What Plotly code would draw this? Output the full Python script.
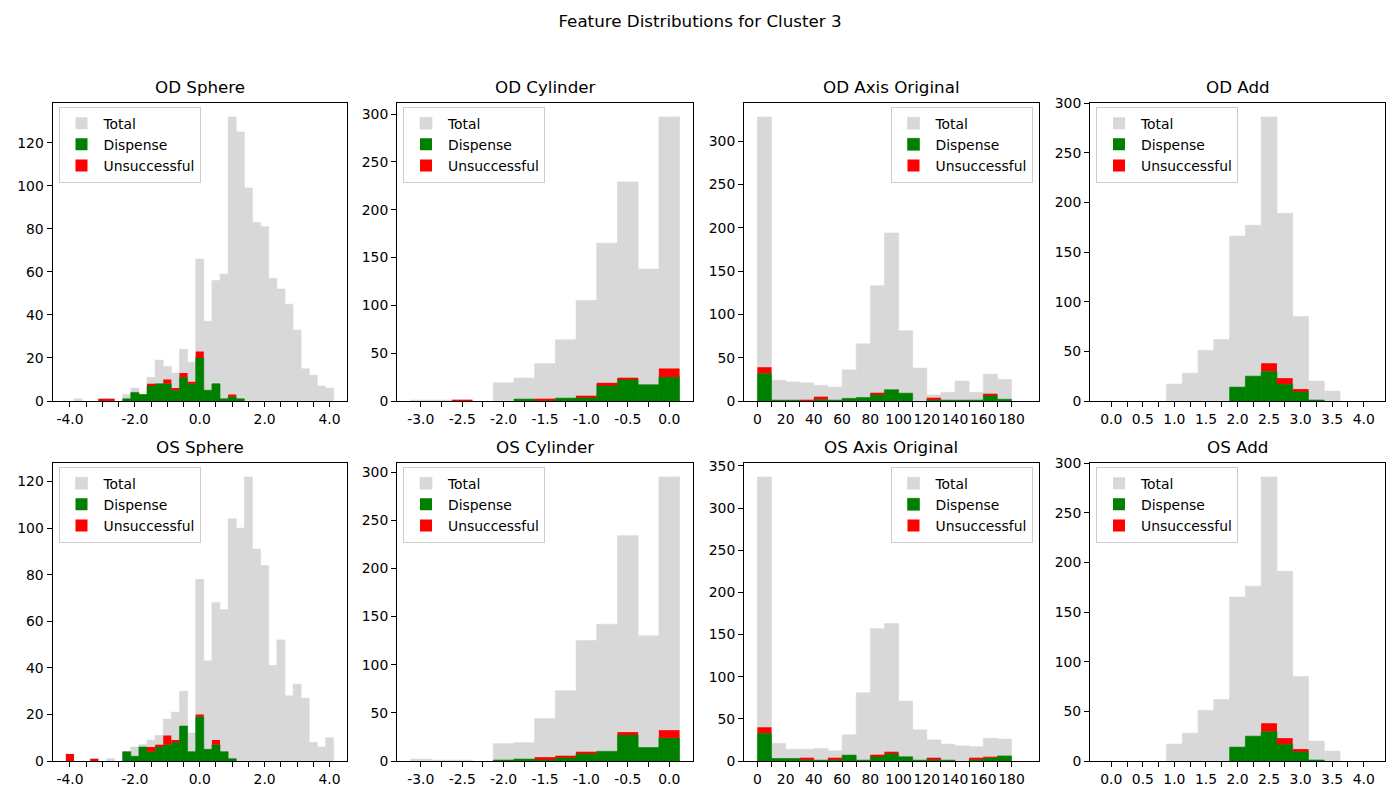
import plotly.graph_objects as go

# bin centres (x values of the histograms)
sphere_bins = [-4.0, -3.75, -3.5, -3.25, -3.0, -2.75, -2.5, -2.25, -2.0, -1.75, -1.5,
               -1.25, -1.0, -0.75, -0.5, -0.25, 0.0, 0.25, 0.5, 0.75, 1.0, 1.25,
               1.5, 1.75, 2.0, 2.25, 2.5, 2.75, 3.0, 3.25, 3.5, 3.75, 4.0]
cylinder_bins = [-3.0, -2.75, -2.5, -2.25, -2.0, -1.75, -1.5, -1.25, -1.0, -0.75, -0.5, -0.25, 0.0]
axis_bins = [5, 15, 25, 35, 45, 55, 65, 75, 85, 95, 105, 115, 125, 135, 145, 155, 165, 175]
add_bins = [0.0, 0.25, 0.5, 0.75, 1.0, 1.25, 1.5, 1.75, 2.0, 2.25, 2.5, 2.75, 3.0, 3.25, 3.5, 3.75, 4.0]

# counts
od_sphere_total = [0, 1, 0, 0, 1, 1, 0, 3, 6, 3, 11, 19, 16, 13, 24, 18, 66, 37, 56, 59, 132, 125,
                   99, 83, 81, 57, 52, 45, 33, 15, 12, 7, 6]
od_sphere_dispense = [0, 0, 0, 0, 0, 0, 0, 1, 4, 3, 7, 8, 8, 5, 11, 8, 20, 5, 8, 1, 2, 1,
                      0, 0, 0, 0, 0, 0, 0, 0, 0, 0, 0]
od_sphere_unsuccessful = [0, 0, 0, 0, 1, 1, 0, 0, 0, 0, 1, 0, 2, 1, 2, 1, 3, 0, 0, 0, 1, 0,
                          0, 0, 0, 0, 0, 0, 0, 0, 0, 0, 0]

os_sphere_total = [3, 0, 0, 1, 0, 1, 0, 4, 6, 7, 9, 11, 18, 21, 30, 12, 78, 43, 68, 65, 104, 100,
                   122, 91, 84, 41, 52, 28, 33, 27, 8, 6, 10]
os_sphere_dispense = [0, 0, 0, 0, 0, 0, 0, 4, 2, 6, 4, 6, 7, 8, 15, 4, 19, 5, 7, 4, 1, 0,
                      0, 0, 0, 0, 0, 0, 0, 0, 0, 0, 0]
os_sphere_unsuccessful = [3, 0, 0, 1, 0, 0, 0, 0, 0, 0, 2, 1, 4, 1, 0, 0, 1, 0, 2, 0, 0, 0,
                          0, 0, 0, 0, 0, 0, 0, 0, 0, 0, 0]

od_cylinder_total = [1, 1, 1, 0, 19, 24, 39, 64, 105, 165, 229, 138, 297]
od_cylinder_dispense = [0, 0, 0, 0, 0, 2, 1, 3, 4, 17, 23, 17, 25]
od_cylinder_unsuccessful = [0, 0, 1, 0, 0, 0, 1, 0, 1, 2, 1, 0, 9]

os_cylinder_total = [2, 1, 1, 0, 18, 19, 44, 73, 125, 142, 234, 130, 295]
os_cylinder_dispense = [0, 0, 0, 0, 1, 2, 2, 4, 8, 10, 27, 14, 24]
os_cylinder_unsuccessful = [0, 0, 0, 0, 0, 0, 2, 1, 1, 0, 3, 0, 8]

od_axis_total = [328, 24, 22, 21, 18, 16, 36, 66, 133, 194, 81, 38, 7, 10, 23, 10, 31, 25]
od_axis_dispense = [32, 1, 1, 0, 2, 1, 3, 4, 8, 13, 9, 0, 2, 1, 1, 1, 7, 2]
od_axis_unsuccessful = [7, 0, 0, 1, 3, 0, 0, 0, 1, 0, 0, 0, 1, 0, 0, 0, 1, 0]

os_axis_total = [337, 21, 14, 14, 15, 12, 31, 81, 157, 163, 71, 37, 25, 20, 18, 17, 27, 26]
os_axis_dispense = [33, 3, 3, 2, 1, 2, 7, 1, 6, 9, 5, 1, 2, 1, 0, 2, 4, 6]
os_axis_unsuccessful = [7, 0, 0, 1, 0, 1, 0, 0, 1, 1, 0, 0, 1, 0, 0, 1, 1, 0]

od_add_total = [0, 0, 0, 0, 17, 28, 51, 62, 166, 177, 286, 189, 85, 20, 10, 0, 0]
od_add_dispense = [0, 0, 0, 0, 0, 0, 0, 0, 14, 25, 30, 17, 10, 1, 0, 0, 0]
od_add_unsuccessful = [0, 0, 0, 0, 0, 0, 0, 0, 0, 0, 8, 6, 2, 0, 0, 0, 0]

os_add_total = [0, 0, 0, 0, 17, 28, 51, 62, 165, 176, 286, 191, 85, 20, 10, 0, 0]
os_add_dispense = [0, 0, 0, 0, 0, 0, 0, 0, 14, 25, 30, 17, 10, 1, 0, 0, 0]
os_add_unsuccessful = [0, 0, 0, 0, 0, 0, 0, 0, 0, 0, 8, 6, 2, 0, 0, 0, 0]

# tick labels
sphere_ticks = [-4.0, -3.5, -3.0, -2.5, -2.0, -1.5, -1.0, -0.5, 0.0, 0.5, 1.0, 1.5, 2.0, 2.5, 3.0, 3.5, 4.0]
sphere_labels = ["-4.0", "", "", "", "-2.0", "", "", "", "0.0", "", "", "", "2.0", "", "", "", "4.0"]
cylinder_ticks = cylinder_bins
cylinder_labels = ["-3.0", "", "-2.5", "", "-2.0", "", "-1.5", "", "-1.0", "", "-0.5", "", "0.0"]
axis_ticks = [0, 10, 20, 30, 40, 50, 60, 70, 80, 90, 100, 110, 120, 130, 140, 150, 160, 170, 180]
axis_labels = ["0", "", "20", "", "40", "", "60", "", "80", "", "100", "", "120", "", "140", "", "160", "", "180"]
add_ticks = add_bins
add_labels = ["0.0", "", "0.5", "", "1.0", "", "1.5", "", "2.0", "", "2.5", "", "3.0", "", "3.5", "", "4.0"]

titles = ["OD Sphere", "OD Cylinder", "OD Axis Original", "OD Add",
          "OS Sphere", "OS Cylinder", "OS Axis Original", "OS Add"]

panels = [
    (sphere_bins, od_sphere_total, od_sphere_dispense, od_sphere_unsuccessful),
    (cylinder_bins, od_cylinder_total, od_cylinder_dispense, od_cylinder_unsuccessful),
    (axis_bins, od_axis_total, od_axis_dispense, od_axis_unsuccessful),
    (add_bins, od_add_total, od_add_dispense, od_add_unsuccessful),
    (sphere_bins, os_sphere_total, os_sphere_dispense, os_sphere_unsuccessful),
    (cylinder_bins, os_cylinder_total, os_cylinder_dispense, os_cylinder_unsuccessful),
    (axis_bins, os_axis_total, os_axis_dispense, os_axis_unsuccessful),
    (add_bins, os_add_total, os_add_dispense, os_add_unsuccessful),
]

# per column styling: bar width, x range, ticks, y dtick, legend corner
col_style = [
    dict(width=0.25, xrange=[-4.5375, 4.5375], ticks=sphere_ticks, labels=sphere_labels, dtick=20, corner="left"),
    dict(width=0.25, xrange=[-3.2875, 0.2875], ticks=cylinder_ticks, labels=cylinder_labels, dtick=50, corner="left"),
    dict(width=10, xrange=[-9.5, 199.5], ticks=axis_ticks, labels=axis_labels, dtick=50, corner="right"),
    dict(width=0.25, xrange=[-0.3375, 4.3375], ticks=add_ticks, labels=add_labels, dtick=50, corner="left"),
]

W, H = 1400, 800
PAGE_MARGIN = 8  # the html body adds 8px around the plot div
cols_px = [(52.5, 347), (397, 693), (744, 1039), (1090, 1385)]
rows_px = [(102.7, 401), (462.7, 761)]


def px_x(p):
    return (p - PAGE_MARGIN) / W


def px_y(p):
    return 1 - (p - PAGE_MARGIN) / H


def seam_width(vals):
    # thin outline in the fill colour hides the hairline gaps between adjacent bars
    return [0.6 if v > 0 else 0 for v in vals]


fig = go.Figure()
annotations = []
layout_extra = {}

for i, (bins, total, dispense, unsuccessful) in enumerate(panels):
    row, col = divmod(i, 4)
    st = col_style[col]
    n = "" if i == 0 else str(i + 1)
    leg = "legend" + n
    xa, ya = "x" + n, "y" + n

    fig.add_trace(go.Bar(x=bins, y=total, width=st["width"], name="Total",
                         marker=dict(color="rgb(216,216,216)",
                                     line=dict(color="rgb(216,216,216)", width=seam_width(total))),
                         xaxis=xa, yaxis=ya, legend=leg))
    fig.add_trace(go.Bar(x=bins, y=dispense, width=st["width"], name="Dispense",
                         marker=dict(color="green", line=dict(color="green", width=seam_width(dispense))),
                         xaxis=xa, yaxis=ya, legend=leg))
    fig.add_trace(go.Bar(x=bins, y=unsuccessful, base=dispense, width=st["width"], name="Unsuccessful",
                         marker=dict(color="red", line_width=0),
                         xaxis=xa, yaxis=ya, legend=leg))

    x0, x1 = cols_px[col]
    y0, y1 = rows_px[row]
    axis_common = dict(showline=True, mirror=True, linecolor="black", linewidth=1,
                       ticks="outside", ticklen=5, tickwidth=1, tickcolor="black",
                       showgrid=False, zeroline=False, automargin=False, tickangle=0,
                       tickfont=dict(size=13.9, color="black"))
    layout_extra["xaxis" + n] = dict(domain=[px_x(x0), px_x(x1)], anchor=ya, range=st["xrange"],
                                     tickmode="array", tickvals=st["ticks"], ticktext=st["labels"],
                                     **axis_common)
    ymax = max(total) * 1.05
    layout_extra["yaxis" + n] = dict(domain=[px_y(y1), px_y(y0)], anchor=xa, range=[0, ymax],
                                     dtick=st["dtick"], **axis_common)

    if st["corner"] == "left":
        lx, xanchor = px_x(x0 + 6), "left"
    else:
        lx, xanchor = px_x(x1 - 6.5), "right"
    layout_extra[leg] = dict(x=lx, y=px_y(y0 + 4), xanchor=xanchor, yanchor="top",
                             bgcolor="rgba(255,255,255,0.8)", bordercolor="#cccccc", borderwidth=1,
                             font=dict(size=13.9, color="black"), itemclick=False, itemwidth=34)

    annotations.append(dict(text=titles[i], x=(px_x(x0) + px_x(x1)) / 2, y=px_y(y0),
                            xref="paper", yref="paper", xanchor="center", yanchor="bottom",
                            yshift=4, showarrow=False, font=dict(size=16.7, color="black")))

fig.update_layout(
    width=W, height=H,
    margin=dict(l=0, r=0, t=0, b=0),
    barmode="overlay",
    plot_bgcolor="white", paper_bgcolor="white",
    font=dict(family="DejaVu Sans", color="black"),
    title=dict(text="Feature Distributions for Cluster 3", x=px_x(700), xanchor="center",
               y=px_y(21), yanchor="middle", font=dict(size=16.7, color="black")),
    annotations=annotations,
    **layout_extra,
)

fig.write_html("out.html")
